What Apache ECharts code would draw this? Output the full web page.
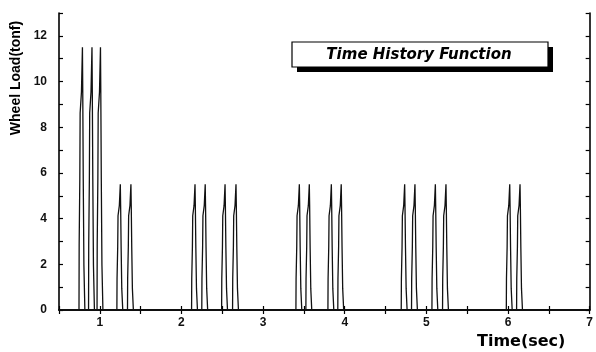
<!DOCTYPE html>
<html>
<head>
<meta charset="utf-8">
<script src="https://cdn.jsdelivr.net/npm/echarts@6/dist/echarts.min.js"></script>
<style>html,body{margin:0;padding:0;background:#fff}#c{width:596px;height:352px}</style>
</head>
<body>
<div id="c"></div>
<script>
// Pulse centre times (sec) and peak wheel loads (tonf)
const spikeTimes = [0.787, 0.904, 1.008, 1.251, 1.381, 2.166, 2.291, 2.534, 2.668,
  3.444, 3.566, 3.836, 3.957, 4.734, 4.860, 5.110, 5.240, 6.021, 6.147];
const spikePeaks = [11.5, 11.5, 11.5, 5.5, 5.5, 5.5, 5.5, 5.5, 5.5,
  5.5, 5.5, 5.5, 5.5, 5.5, 5.5, 5.5, 5.5, 5.5, 5.5];
// Stepped pulse shape: time offset (sec) and fraction of peak
const pulseOffsets = [-0.042, -0.040, -0.032, -0.028, -0.012, 0, 0.004, 0.010, 0.018, 0.030];
const pulseLevels  = [0, 0.25, 0.5, 0.75, 0.83, 1, 0.83, 0.5, 0.17, 0];
const xTickLabels = ['1', '2', '3', '4', '5', '6', '7'];
const yTickLabels = ['0', '2', '4', '6', '8', '10', '12'];

const data = [[0.5, 0]];
spikeTimes.forEach((t, i) => {
  pulseOffsets.forEach((o, k) => data.push([+(t + o).toFixed(4), +(spikePeaks[i] * pulseLevels[k]).toFixed(3)]));
});
data.push([7, 0]);

const chart = echarts.init(document.getElementById('c'), null, {renderer: 'canvas'});
const lbl = {color: '#111', fontFamily: 'Liberation Sans, Arial, sans-serif', fontWeight: 'bold', fontSize: 12};
const axLine = {show: true, lineStyle: {color: '#000', width: 1.6}};
chart.setOption({
  animation: false,
  backgroundColor: '#fff',
  grid: {left: 59, right: 3, top: 13, bottom: 42},
  xAxis: [{
    type: 'value', min: 0.5, max: 7, interval: 0.5,
    axisLine: axLine,
    axisTick: {inside: true, length: 4, lineStyle: {color: '#000', width: 1.2}},
    axisLabel: Object.assign({margin: 7, formatter: v => xTickLabels.includes(String(v)) ? String(v) : ''}, lbl),
    splitLine: {show: false}
  }, {
    type: 'value', position: 'top', min: 0.5, max: 7, interval: 0.5,
    axisLine: axLine,
    axisTick: {inside: true, length: 4, lineStyle: {color: '#000', width: 1.2}},
    axisLabel: {show: false}, splitLine: {show: false}
  }],
  yAxis: [{
    type: 'value', min: 0, max: 13, interval: 1,
    axisLine: axLine,
    axisTick: {inside: true, length: 4, lineStyle: {color: '#000', width: 1.2}},
    axisLabel: Object.assign({margin: 12, formatter: v => yTickLabels.includes(String(v)) ? String(v) : ''}, lbl),
    splitLine: {show: false}
  }, {
    type: 'value', position: 'right', min: 0, max: 13, interval: 1,
    axisLine: axLine,
    axisTick: {inside: true, length: 4, lineStyle: {color: '#000', width: 1.2}},
    axisLabel: {show: false}, splitLine: {show: false}
  }],
  series: [{
    type: 'line', data: data, showSymbol: false, symbol: 'none',
    lineStyle: {color: '#111', width: 1.3}, z: 1
  }],
  graphic: [
    {type: 'text', left: 477, top: 334,
      style: {text: 'Time(sec)', fontFamily: 'DejaVu Sans', fontWeight: 'bold', fontSize: 16, fill: '#000'}},
    {type: 'text', x: 16, y: 78, rotation: Math.PI / 2,
      style: {text: 'Wheel Load(tonf)', fontFamily: 'Liberation Sans', fontWeight: 'bold', fontSize: 14,
        fill: '#000', align: 'center', verticalAlign: 'middle'}},
    {type: 'rect', shape: {x: 297, y: 47, width: 256, height: 25}, style: {fill: '#000'}, z: 10},
    {type: 'rect', shape: {x: 292, y: 42, width: 256, height: 25}, style: {fill: '#fff', stroke: '#000', lineWidth: 1.2}, z: 11},
    {type: 'text', x: 419, y: 55, z: 12,
      style: {text: 'Time History Function', fontFamily: 'DejaVu Sans', fontWeight: 'bold', fontStyle: 'italic',
        fontSize: 15, fill: '#000', align: 'center', verticalAlign: 'middle'}}
  ]
});
</script>
</body>
</html>
